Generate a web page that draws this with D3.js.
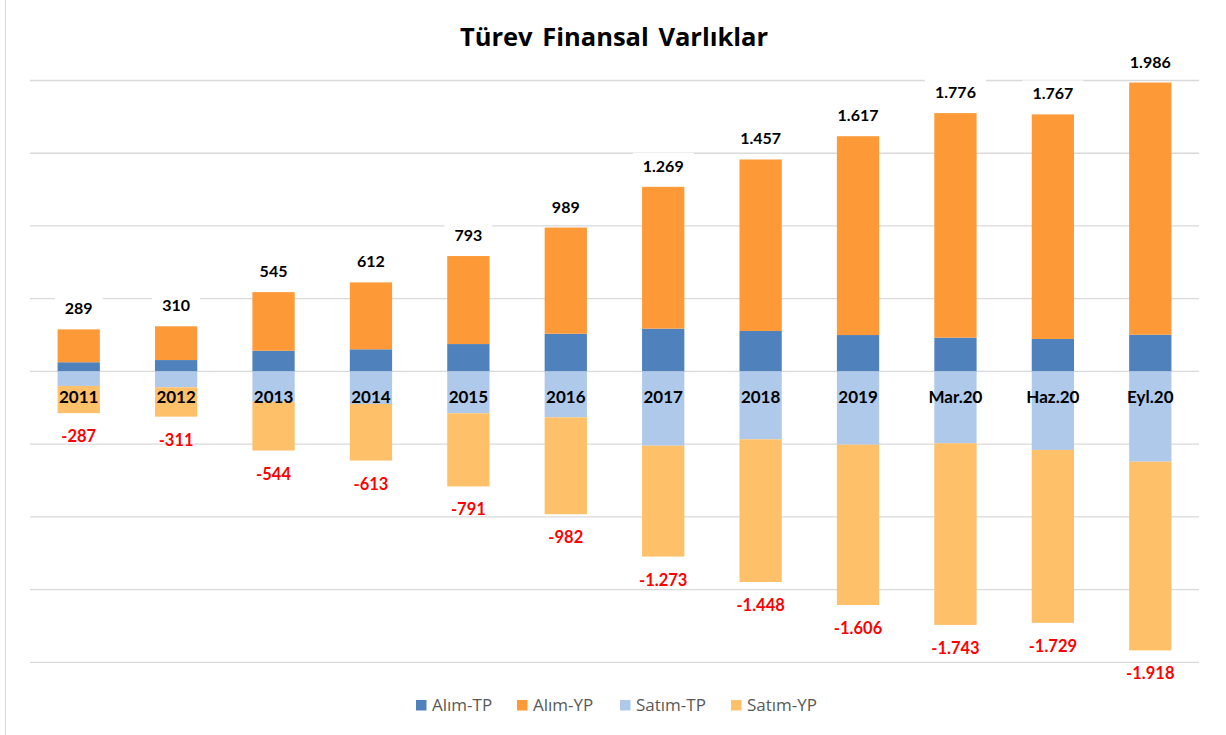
<!DOCTYPE html>
<html>
<head>
<meta charset="utf-8">
<script src="https://cdn.jsdelivr.net/npm/d3@7"></script>
<style>
  body { margin: 0; background: #fff; }
  svg { display: block; font-family: Lato, "Open Sans", sans-serif; }
</style>
</head>
<body>
<div id="chart"></div>
<script>
// veriler (milyon TL)
const categories = ["2011", "2012", "2013", "2014", "2015", "2016", "2017", "2018", "2019", "Mar.20", "Haz.20", "Eyl.20"];
const alimTP  = [63, 78, 142, 152, 188, 259, 294, 278, 250, 232, 223, 252];
const alimYP  = [226, 232, 403, 460, 605, 730, 975, 1179, 1367, 1544, 1544, 1734];
const satimTP = [-100, -109, -208, -224, -288, -316, -511, -467, -504, -494, -540, -621];
const satimYP = [-187, -202, -336, -389, -503, -666, -762, -981, -1102, -1249, -1189, -1297];
const alimTotal  = [289, 310, 545, 612, 793, 989, 1269, 1457, 1617, 1776, 1767, 1986];
const satimTotal = [-287, -311, -544, -613, -791, -982, -1273, -1448, -1606, -1743, -1729, -1918];
const yTicks = [-2000, -1500, -1000, -500, 0, 500, 1000, 1500, 2000];

const width = 1226, height = 735;
// binlik ayırıcı nokta, eksi işareti kısa tire
const fmt = v => d3.format(",")(v).replace(/,/g, ".").replace("\u2212", "-");

const svg = d3.select("#chart").append("svg")
  .attr("width", width).attr("height", height);

// çerçeve sol kenar
svg.append("line")
  .attr("x1", 5.5).attr("x2", 5.5).attr("y1", 0).attr("y2", height)
  .attr("stroke", "#d9d9d9").attr("stroke-width", 1);

const x = d3.scaleBand().domain(categories).range([30, 1199])
  .paddingInner(0.566).paddingOuter(0.283);
const y = d3.scaleLinear().domain([-2000, 2000]).range([662.3, 80.5]);

// ızgara
svg.append("g").selectAll("line").data(yTicks).join("line")
  .attr("x1", 30).attr("x2", 1199)
  .attr("y1", d => y(d)).attr("y2", d => y(d))
  .attr("stroke", "#d9d9d9").attr("stroke-width", 1.3);

const series = [
  { name: "Alım-TP",  color: "#4f81bd", vals: alimTP,  base: () => 0 },
  { name: "Alım-YP",  color: "#fd9a37", vals: alimYP,  base: i => alimTP[i] },
  { name: "Satım-TP", color: "#afc9ea", vals: satimTP, base: () => 0 },
  { name: "Satım-YP", color: "#fec068", vals: satimYP, base: i => satimTP[i] }
];

series.forEach(s => {
  svg.append("g").selectAll("rect").data(s.vals).join("rect")
    .attr("x", (d, i) => x(categories[i]))
    .attr("width", x.bandwidth())
    .attr("y", (d, i) => y(Math.max(s.base(i), s.base(i) + d)))
    .attr("height", (d, i) => Math.abs(y(s.base(i)) - y(s.base(i) + d)))
    .attr("fill", s.color);
});

const cx = c => x(c) + x.bandwidth() / 2;

// toplam etiketleri (beyaz kutulu)
const totalLbl = svg.append("g").selectAll("g").data(alimTotal).join("g")
  .attr("transform", (d, i) => `translate(${cx(categories[i])},${y(d) - 15})`);
totalLbl.append("text")
  .attr("text-anchor", "middle")
  .attr("font-size", 16).attr("font-weight", 700).attr("fill", "#000")
  .text(fmt);
totalLbl.insert("rect", "text")
  .attr("fill", "#fff")
  .each(function() {
    const w = this.parentNode.querySelector("text").getComputedTextLength() + 20;
    d3.select(this).attr("x", -w / 2).attr("width", w).attr("y", -19).attr("height", 25);
  });

svg.append("g").selectAll("text").data(satimTotal).join("text")
  .attr("x", (d, i) => cx(categories[i]))
  .attr("y", d => y(d) + 29)
  .attr("text-anchor", "middle")
  .attr("font-size", 16.5).attr("font-weight", 700).attr("fill", "#ff0000")
  .text(fmt);

// kategori etiketleri
svg.append("g").selectAll("text").data(categories).join("text")
  .attr("x", d => cx(d))
  .attr("y", y(0) + 32)
  .attr("text-anchor", "middle")
  .attr("font-size", 17).attr("font-weight", 700).attr("fill", "#000")
  .text(d => d);

// başlık
svg.append("text")
  .attr("x", 614).attr("y", 46)
  .attr("text-anchor", "middle")
  .attr("font-family", "'Open Sans', sans-serif")
  .attr("font-size", 25.5).attr("font-weight", 700).attr("fill", "#000")
  .attr("word-spacing", 3)
  .text("Türev Finansal Varlıklar");

// lejant
const legendX = [416, 517, 620, 731];
const lg = svg.append("g").selectAll("g").data(series).join("g")
  .attr("transform", (d, i) => `translate(${legendX[i]},711)`);
lg.append("rect").attr("x", 0).attr("y", -11).attr("width", 10.5).attr("height", 10.5)
  .attr("fill", d => d.color);
lg.append("text").attr("x", 16).attr("y", 0)
  .attr("font-family", "'Open Sans', sans-serif")
  .attr("font-size", 17).attr("fill", "#595959")
  .text(d => d.name);
</script>
</body>
</html>
